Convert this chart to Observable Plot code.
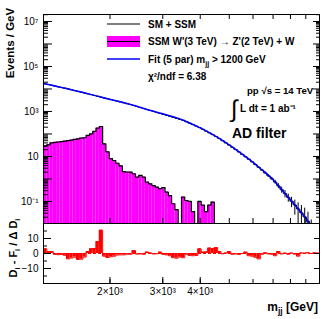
<!DOCTYPE html>
<html><head><meta charset="utf-8">
<script src="https://cdn.jsdelivr.net/npm/d3@7"></script>
<script src="https://cdn.jsdelivr.net/npm/@observablehq/plot@0.6"></script>
<style>
body{margin:0;background:#fff;}
#wrap{position:relative;width:332px;height:319px;}
#wrap svg{position:absolute;left:0;}
</style></head><body><div id="wrap"></div>
<script>
// ---- data ----
const binEdges = [1200,1231,1262,1294,1328,1361,1396,1432,1469,1506,1545,1584,1625,1666,1709,1752,1797,1843,1890,1938,1988,2039,2091,2144,2199,2255,2313,2372,2433,2495,2559,2624,2691,2760,2830,2903,2977,3053,3131,3211,3293,3377,3464,3552,3643,3736,3832,3930,4030,4133,4239,4347,4458,4572,4689,4809,4932,5058,5187,5320,5456,5595,5738,5885,6035,6190,6348,6510,6676,6847,7022,7202,7386,7575,7768,7967,8170,8379,8593,8813,9038,9269,9506,9749,10000];
// SSM W' -> Z' + W signal (Events / GeV)
const signalValues = [29,33,40,42,44,46,48,51,53,57,61,65,68,86,100,129,181,215,36,16,8,6.6,5.0,3.8,2.1,2.0,2.0,1.7,1.2,1.43,1.2,0.72,0.61,0.51,0.43,0.37,0.41,0.26,0.18,0.079,0.043,0,0.155,0.11,0.10,0.035,0,0.10,0.068,0.035,0.068,0.093];
// SM + SSM (Events / GeV)
const smValues = [16900,15700,14600,13500,12500,11600,10800,10000,9290,8540,7840,7210,6620,6090,5600,5150,4740,4350,4000,3680,3380,3110,2860,2630,2420,2220,2040,1850,1670,1510,1370,1230,1110,1010,910,822,742,670,605,547,494,446,403,349,301,259,224,193,162,134,112,92.9,77.1,62.5,50.0,40.0,32.1,25.6,20.2,15.8,12.3,9.62,7.51,5.78,4.37,3.31,2.48,1.85,1.37,1.02,0.731,0.493,0.332,0.225,0.152,0.103,0.0695,0.0466,0.0312,0.0205,0.0132,0,0,0];
const smErrors = [0,0,0,0,0,0,0,0,0,0, 0,0,0,0,0,0,0,0,0,0, 0,0,0,0,0,0,0,0,0,0, 0,0,0,0,0,0,0,0,0,0, 0,0,0,0,0,0,0,0,0,0, 0,0,0,0,0,0,0,0,0,0, 0,0,0.2,0.2,0.2,0.25,0.2,0.2,0.18,0.15,0.15,0.12,0.1,0.08,0.06,0.05,0.045,0.04,0.035,0.03,0.02,0.015,0,0];
// Fit (5 par), m_jj > 1200 GeV
const fitMass = [1200,1476,1859,2341,2730,3530,3998,4557,5178,5887,6357,7040,7603,8210,8757,9102,9200];
const fitValues = [17550,9506,4406,2046,1108,398,185,72,23.4,6.64,2.84,0.86,0.259,0.0794,0.0284,0.0148,0.0106];
// (D_i - F_i) / ΔD_i
const pullValues = [3.1,1.3,1.3,-0.6,-0.8,-0.6,-1.2,-3.6,-3.0,-2.4,-4.0,-3.8,-2.4,1.3,3.1,3.3,8.0,15.5,-1.8,-2.7,-2.2,-1.8,-1.0,-0.9,-0.9,-0.5,-0.5,2.0,-0.4,-0.3,-0.5,0.9,0.3,-0.3,-0.2,0.9,-0.6,-0.9,-1.5,-2.8,-3.1,-2.4,-2.8,-0.5,-1.3,-1.5,-1.3,3.1,0.9,1.0,3.6,3.2,4.0,1.3,-0.2,0.3,1.3,-0.5,-0.3,-0.6,0.0,0.9,-1.5,-1.8,-2.5,-3.6,-0.5,0.4,-0.3,-0.5,-1.5,1.3,-0.3,0.2,-0.5,0.3,-0.4,-1.8,0.3,0.2,0.5,0.0,0.4,0.2];
// ticks
const yLabelTicks = [1e7,1e5,1e3,10,0.1];
const yLabelTexts = ["10⁷","10⁵","10³","10","10⁻¹"];
const xLabelTicks = [2000,3000,4000];
const xLabelTexts = ["2×10³","3×10³","4×10³"];
const pullLabelTicks = [10,0,-10];
const pullLabelTexts = ["10","0","−10"];
const pullMinorTicks = [-15,-5,5,15];
const legendTexts = ["SM + SSM","SSM W'(3 TeV)  → Z'(2 TeV) + W","Fit (5 par) m","jj"," > 1200 GeV","χ²/ndf = 6.38"];
const infoTexts = ["pp √s = 14 TeV","∫","L dt = 1 ab⁻¹","AD filter"];

// ---- build ----
const FONT = "'Liberation Sans', Arial, Helvetica, sans-serif";
const W = 332, H = 319;
const X_DOMAIN = [1200, 10000];
const Y_DOMAIN = [Math.pow(10,-1.98), Math.pow(10,7.31)];
const Y_MIN = Y_DOMAIN[0];

const bins = smValues.map((v,i)=>({lo:binEdges[i],hi:binEdges[i+1],sm:v,err:smErrors[i],sig:signalValues[i] ?? 0,pull:pullValues[i]}));
const sigBins = bins.slice(0, signalValues.length);
const lastSig = sigBins[sigBins.length-1];
const sigOutline = sigBins.map(d=>({x:d.lo,y:Math.max(d.sig,Y_MIN)}))
  .concat([{x:lastSig.hi,y:Math.max(lastSig.sig,Y_MIN)},{x:lastSig.hi,y:Y_MIN}]);
const smOutline = bins.map(d=>({x:d.lo,y:Math.max(d.sm,Y_MIN)}))
  .concat([{x:bins[bins.length-1].hi,y:Math.max(bins[bins.length-1].sm,Y_MIN)}]);
const fitPoints = fitMass.map((m,i)=>({m, v:fitValues[i]}));
const pullOutline = bins.map(d=>({x:d.lo,y:d.pull})).concat([{x:bins[bins.length-1].hi,y:bins[bins.length-1].pull}]);

const yAll = d3.scaleLog().domain(Y_DOMAIN).ticks().filter(t=>t>=Y_DOMAIN[0]&&t<=Y_DOMAIN[1]);
const yDecades = yAll.filter(t=>Math.abs(Math.log10(t)-Math.round(Math.log10(t)))<1e-9);
const yMinor = yAll.filter(t=>!yDecades.includes(t));
const xAll = d3.scaleLog().domain(X_DOMAIN).ticks().filter(t=>t>X_DOMAIN[0]&&t<X_DOMAIN[1]);
const xLabels = xLabelTicks.map((t,i)=>({t, s:xLabelTexts[i]}));
const yLabels = yLabelTicks.map((t,i)=>({t, s:yLabelTexts[i]}));
const pLabels = pullLabelTicks.map((t,i)=>({t, s:pullLabelTexts[i]}));
const blank = () => "";
const style = {fontFamily: FONT, fontSize: "10px", color: "black", background: "none", overflow: "visible"};

const mainPlot = Plot.plot({
  width: W, height: 223,
  marginLeft: 43, marginRight: 13, marginTop: 14, marginBottom: 0,
  x: {type: "log", domain: X_DOMAIN, label: null},
  y: {type: "log", domain: Y_DOMAIN, label: null},
  style,
  marks: [
    Plot.rect(sigBins.filter(d=>d.sig>0), {x1:"lo", x2:"hi", y1:Y_MIN, y2:"sig", fill:"#ff00ff"}),
    Plot.line(sigOutline, {x:"x", y:"y", curve:"step-after", stroke:"black", strokeWidth:1.2}),
    Plot.line(smOutline, {x:"x", y:"y", curve:"step-after", stroke:"black", strokeWidth:1}),
    Plot.ruleX(bins.filter(d=>d.err>0), {x:d=>Math.sqrt(d.lo*d.hi), y1:d=>Math.max(d.sm-d.err,Y_MIN), y2:d=>d.sm+d.err, stroke:"black"}),
    Plot.line(fitPoints, {x:"m", y:"v", curve:"monotone-x", stroke:"#0000ff", strokeWidth:1.5}),
    Plot.frame({stroke:"black"}),
    Plot.axisY(yDecades, {anchor:"left", tickSize:-9, tickFormat:blank, label:null}),
    Plot.axisY(yMinor, {anchor:"left", tickSize:-5, tickFormat:blank, label:null}),
    Plot.axisY(yDecades, {anchor:"right", tickSize:-7, tickFormat:blank, label:null}),
    Plot.axisY(yMinor, {anchor:"right", tickSize:-4, tickFormat:blank, label:null}),
    Plot.text(yLabels, {y:"t", text:"s", frameAnchor:"left", textAnchor:"end", dx:-5, fontSize:10}),
    Plot.axisX(xAll, {anchor:"bottom", tickSize:-5, tickFormat:blank, label:null}),
    Plot.axisX(xAll, {anchor:"top", tickSize:-4, tickFormat:blank, label:null})
  ]
});

const ratioPlot = Plot.plot({
  width: W, height: 96,
  marginLeft: 43, marginRight: 13, marginTop: 0, marginBottom: 36,
  x: {type: "log", domain: X_DOMAIN, label: null},
  y: {domain: [-20, 20], label: null},
  style,
  marks: [
    Plot.ruleY([0], {stroke:"red", strokeDasharray:"3,2"}),
    Plot.rect(bins, {x1:"lo", x2:"hi", y1:0, y2:"pull", fill:"red"}),
    Plot.line(pullOutline, {x:"x", y:"y", curve:"step-after", stroke:"red", strokeWidth:1}),
    Plot.frame({stroke:"black"}),
    Plot.axisY(pullLabelTicks, {anchor:"left", tickSize:-8, tickFormat:blank, label:null}),
    Plot.axisY(pullMinorTicks, {anchor:"left", tickSize:-4, tickFormat:blank, label:null}),
    Plot.axisY(pullLabelTicks, {anchor:"right", tickSize:-6, tickFormat:blank, label:null}),
    Plot.text(pLabels, {y:"t", text:"s", frameAnchor:"left", textAnchor:"end", dx:-5, fontSize:10}),
    Plot.axisX(xAll, {anchor:"bottom", tickSize:-4, tickFormat:blank, label:null}),
    Plot.axisX(xLabelTicks, {anchor:"bottom", tickSize:-6, tickFormat:blank, label:null}),
    Plot.text(xLabels, {x:"t", text:"s", frameAnchor:"bottom", dy:11, fontSize:10})
  ]
});

const wrap = document.getElementById("wrap");
mainPlot.style.top = "0px";
ratioPlot.style.top = "223px";
wrap.appendChild(mainPlot);
wrap.appendChild(ratioPlot);

// ---- overlay: legend, titles, annotations ----
const ov = d3.select(wrap).append("svg")
  .attr("width", W).attr("height", H)
  .style("top","0px").style("left","0px")
  .attr("font-family", FONT).attr("font-weight","bold").attr("font-size",10);

function rich(sel, x, y, parts, opts={}) {
  const t = sel.append("text").attr("x", x).attr("y", y);
  if (opts.anchor) t.attr("text-anchor", opts.anchor);
  if (opts.size) t.attr("font-size", opts.size);
  if (opts.transform) t.attr("transform", opts.transform);
  let shift = 0;
  parts.forEach(p => {
    const sp = t.append("tspan").text(p.t);
    const want = p.sub ? 3 : 0;
    if (want !== shift) { sp.attr("dy", want - shift); shift = want; }
    if (p.sub) sp.attr("font-size", "70%");
  });
  return t;
}

// legend
ov.append("line").attr("x1",107).attr("x2",140).attr("y1",24).attr("y2",24).attr("stroke","black").attr("stroke-width",1.2);
rich(ov,148,27.5,[{t:legendTexts[0]}]);
ov.append("rect").attr("x",107).attr("y",36).attr("width",33).attr("height",11).attr("fill","#ff00ff");
ov.append("line").attr("x1",107).attr("x2",140).attr("y1",41.5).attr("y2",41.5).attr("stroke","black").attr("stroke-width",1.2);
rich(ov,148,45,[{t:legendTexts[1]}]);
ov.append("line").attr("x1",107).attr("x2",140).attr("y1",59).attr("y2",59).attr("stroke","#0000ff").attr("stroke-width",1.5);
rich(ov,148,62.5,[{t:legendTexts[2]},{t:legendTexts[3],sub:true},{t:legendTexts[4]}]);
rich(ov,148,80,[{t:legendTexts[5]}]);

// info
rich(ov,247,93.5,[{t:infoTexts[0]}],{size:9.6});
ov.append("text").attr("x",231).attr("y",117).attr("font-size",24).attr("font-weight","normal").text(infoTexts[1]);
rich(ov,240,111.5,[{t:infoTexts[2]}]);
rich(ov,232,138,[{t:infoTexts[3]}],{size:14});

// axis titles
rich(ov,0,0,[{t:"Events / GeV"}],{anchor:"middle",size:11.5,transform:"translate(14,43) rotate(-90)"});
rich(ov,0,0,[{t:"D"},{t:"i",sub:true},{t:" - F"},{t:"i",sub:true},{t:" / Δ D"},{t:"i",sub:true}],{anchor:"middle",size:11,transform:"translate(17,248) rotate(-90)"});
rich(ov,318,311,[{t:"m"},{t:"jj",sub:true},{t:" [GeV]"}],{anchor:"end",size:12});
</script></body></html>
